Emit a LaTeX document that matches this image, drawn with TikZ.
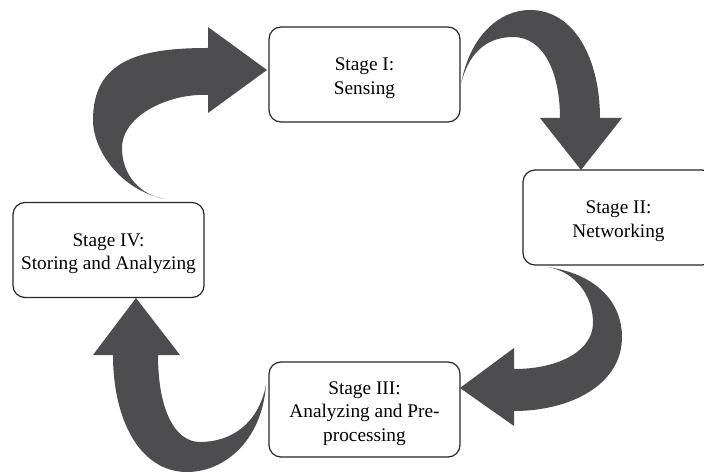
\documentclass[tikz,border=0pt]{standalone}
\usepackage{fontspec}
\setmainfont{Liberation Serif}
\definecolor{arrowgray}{RGB}{77,77,79}
% centred lines of a stage label, set a little below the box centre
\newcommand\stagelines[1]{\raisebox{-3.5bp}[\height][\depth]{\begin{tabular}{@{}c@{}}#1\end{tabular}}}
\begin{document}
\begin{tikzpicture}[x=1bp,y=-1bp,
  stagebox/.style={draw=black!85, fill=white, line width=1.2bp, rounded corners=12bp,
    minimum width=191bp, minimum height=95bp, inner sep=0pt,
    font=\fontsize{19.3bp}{23.5bp}\selectfont},
  flowarrow/.style={fill=arrowgray, draw=none}]
\useasboundingbox (0,0) rectangle (704,472);

% curved block arrows between the stages
% IV -> I
\fill[flowarrow] (165,199) .. controls (120,190) and (93,150) .. (93,120)
  .. controls (93,60) and (140,48) .. (208,48)
  -- (208,27) -- (267,70) -- (208,113) -- (208,95)
  .. controls (170,93) and (122,115) .. (122,148)
  .. controls (122,175) and (140,195) .. (165,199) -- cycle;
% I -> II
\fill[flowarrow] (461,84) .. controls (470,35) and (500,10) .. (530,10)
  .. controls (575,10) and (600,60) .. (600,118)
  -- (622,118) -- (581,170) -- (540,118) -- (560,118)
  .. controls (560,75) and (545,37) .. (513,37)
  .. controls (485,37) and (468,55) .. (461,84) -- cycle;
% II -> III
\fill[flowarrow] (548,267) .. controls (600,275) and (622,305) .. (622,337)
  .. controls (622,385) and (570,411) .. (514,411)
  -- (514,426) -- (460,388) -- (514,348) -- (514,369)
  .. controls (560,369) and (593,350) .. (593,323)
  .. controls (593,295) and (575,272) .. (548,267) -- cycle;
% III -> IV
\fill[flowarrow] (266,385) .. controls (262,440) and (225,472) .. (187,472)
  .. controls (140,472) and (113,420) .. (113,355)
  -- (93,355) -- (136,298) -- (180,355) -- (158,355)
  .. controls (158,410) and (175,442) .. (200,442)
  .. controls (230,442) and (258,425) .. (266,385) -- cycle;

% stage boxes
\node[stagebox] (s1) at (364.5,74.5) {\stagelines{Stage I:\\Sensing}};
\node[stagebox] (s2) at (618.5,217.5) {\stagelines{Stage II:\\Networking}};
\node[stagebox] (s3) at (364.5,409.5) {\stagelines{Stage III:\\Analyzing and Pre-\\processing}};
\node[stagebox] (s4) at (108.5,250) {\stagelines{Stage IV:\\Storing and Analyzing}};
\end{tikzpicture}
\end{document}
